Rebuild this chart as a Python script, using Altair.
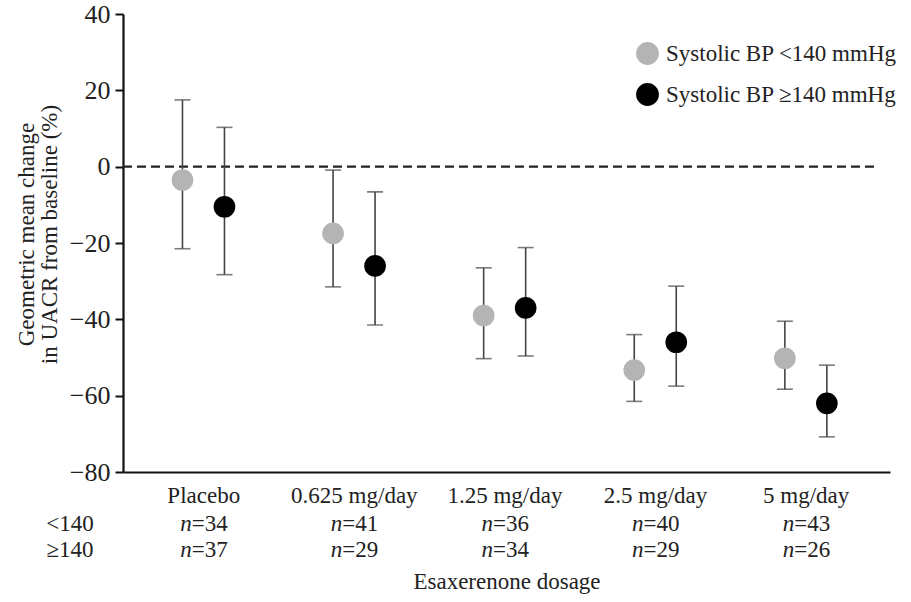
import altair as alt
import pandas as pd

doses = ["Placebo", "0.625 mg/day", "1.25 mg/day", "2.5 mg/day", "5 mg/day"]
groups = ["Systolic BP <140 mmHg", "Systolic BP \u2265140 mmHg"]

mean_lt = [-3.5, -17.5, -39.0, -53.3, -50.2]
lo_lt = [-21.5, -31.5, -50.3, -61.5, -58.3]
hi_lt = [17.5, -0.9, -26.5, -44.0, -40.5]

mean_ge = [-10.5, -26.0, -37.0, -46.0, -62.0]
lo_ge = [-28.3, -41.5, -49.6, -57.5, -70.8]
hi_ge = [10.3, -6.6, -21.2, -31.3, -52.0]

n_lt = [34, 41, 36, 40, 43]
n_ge = [37, 29, 34, 29, 26]

row_labels = ["<140", "\u2265140"]
y_ticks = [-80, -60, -40, -20, 0, 20, 40]

FONT = "Liberation Serif"
W, H = 767, 458

rows = []
for i, d in enumerate(doses):
    rows.append({"dose": d, "group": groups[0], "mean": mean_lt[i], "lo": lo_lt[i], "hi": hi_lt[i]})
    rows.append({"dose": d, "group": groups[1], "mean": mean_ge[i], "lo": lo_ge[i], "hi": hi_ge[i]})
df = pd.DataFrame(rows)

df_n = pd.DataFrame({
    "dose": doses,
    "lt": ["=" + str(v) for v in n_lt],
    "ge": ["=" + str(v) for v in n_ge],
})

X = alt.X(
    "dose:N",
    sort=doses,
    scale=alt.Scale(domain=doses, paddingInner=0, paddingOuter=0.0465, align=0.39),
    axis=alt.Axis(
        labels=False, ticks=False, domain=True, domainColor="#111", domainWidth=2.2,
        title="Esaxerenone dosage", titleFont=FONT, titleFontSize=23,
        titleFontWeight="normal", titleColor="#222", titleY=116, titleBaseline="alphabetic",
    ),
)
XO = alt.XOffset("group:N", sort=groups,
                 scale=alt.Scale(type="point", domain=groups, range=[54, 96], padding=0))
Y_SCALE = alt.Scale(domain=[-80, 40], nice=False, zero=False)

yaxis = alt.Axis(
    values=y_ticks, grid=False, tickSize=8, tickWidth=2, tickColor="#111",
    domainColor="#111", domainWidth=2.2, labelFont=FONT, labelFontSize=26,
    labelColor="#222", labelPadding=5,
    title=["Geometric mean change", "in UACR from baseline (%)"],
    titleFont=FONT, titleFontSize=23, titleFontWeight="normal", titleColor="#222",
    titleX=-108, titleY=220, titleAngle=-90, titleAlign="center",
    titleBaseline="top", titleLineHeight=23,
)

base = alt.Chart(df)

zero = alt.Chart(pd.DataFrame({"z": [0]})).mark_rule(
    strokeDash=[9, 5], strokeWidth=2.4, color="#222"
).encode(y=alt.Y("z:Q", scale=Y_SCALE, axis=yaxis), x=alt.value(0), x2=alt.value(756))

bars = base.mark_rule(color="#444", strokeWidth=1.6).encode(
    x=X, xOffset=XO, y=alt.Y("lo:Q", scale=Y_SCALE), y2="hi:Q"
)
cap_lo = base.mark_tick(color="#444", size=16, thickness=1.6).encode(
    x=X, xOffset=XO, y=alt.Y("lo:Q", scale=Y_SCALE)
)
cap_hi = base.mark_tick(color="#444", size=16, thickness=1.6).encode(
    x=X, xOffset=XO, y=alt.Y("hi:Q", scale=Y_SCALE)
)
points = base.mark_circle(size=470, opacity=1).encode(
    x=X, xOffset=XO, y=alt.Y("mean:Q", scale=Y_SCALE),
    color=alt.Color(
        "group:N", sort=groups,
        scale=alt.Scale(domain=groups, range=["#b4b4b4", "#000000"]),
        legend=alt.Legend(
            orient="none", legendX=513, legendY=28, title=None,
            symbolSize=520, symbolType="circle", symbolStrokeWidth=0,
            labelFont=FONT, labelFontSize=23, labelColor="#222",
            labelOffset=7, rowPadding=17, padding=0, labelLimit=400,
        ),
    ),
)

ntext = alt.Chart(df_n)
cat_labels = ntext.mark_text(font=FONT, fontSize=23, baseline="alphabetic", color="#222").encode(
    x=X, text="dose:N", y=alt.value(489)
)
n1_i = ntext.mark_text(font=FONT, fontSize=23, fontStyle="italic", align="right",
                       baseline="alphabetic", dx=-12, color="#222").encode(
    x=X, text=alt.value("n"), y=alt.value(517))
n1_t = ntext.mark_text(font=FONT, fontSize=23, align="left",
                       baseline="alphabetic", dx=-12, color="#222").encode(
    x=X, text="lt:N", y=alt.value(517))
n2_i = ntext.mark_text(font=FONT, fontSize=23, fontStyle="italic", align="right",
                       baseline="alphabetic", dx=-12, color="#222").encode(
    x=X, text=alt.value("n"), y=alt.value(543))
n2_t = ntext.mark_text(font=FONT, fontSize=23, align="left",
                       baseline="alphabetic", dx=-12, color="#222").encode(
    x=X, text="ge:N", y=alt.value(543))

df_rows = pd.DataFrame({"lab": row_labels})
row1 = alt.Chart(df_rows.iloc[[0]]).mark_text(font=FONT, fontSize=23, baseline="alphabetic",
                                              color="#222").encode(
    x=alt.value(-53), y=alt.value(517), text="lab:N")
row2 = alt.Chart(df_rows.iloc[[1]]).mark_text(font=FONT, fontSize=23, baseline="alphabetic",
                                              color="#222").encode(
    x=alt.value(-53), y=alt.value(543), text="lab:N")

chart = alt.layer(
    zero, bars, cap_lo, cap_hi, points, cat_labels, n1_i, n1_t, n2_i, n2_t, row1, row2
).properties(
    width=W, height=H,
    autosize=alt.AutoSizeParams(type="none"),
    padding={"left": 123, "top": 14, "right": 21, "bottom": 130},
    background="white",
).configure_view(stroke=None).configure_axis(labelFont=FONT, titleFont=FONT)

chart.save("out.html", embed_options={"renderer": "svg", "actions": False})
